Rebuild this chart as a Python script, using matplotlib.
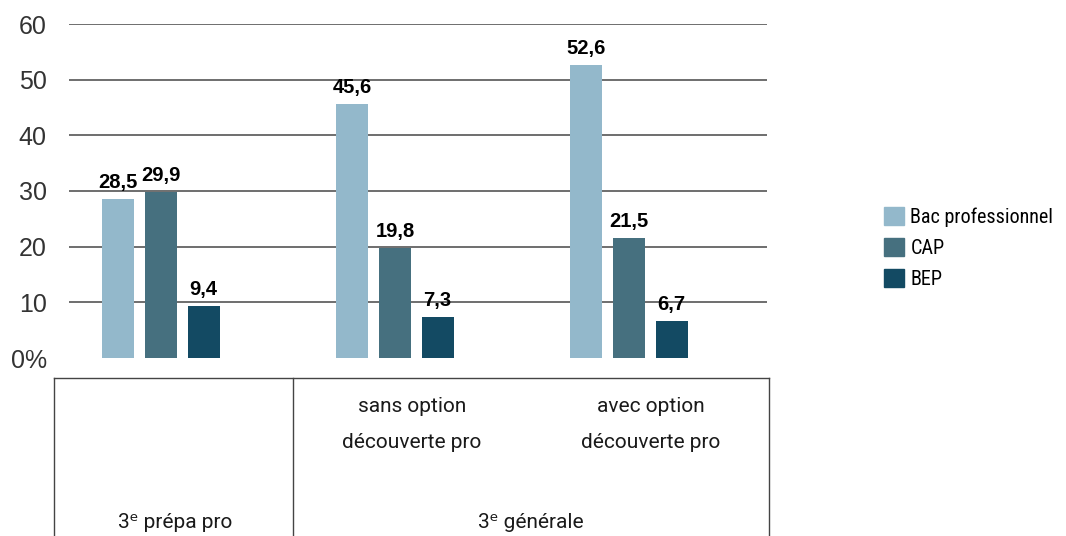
import matplotlib
matplotlib.use("Agg")
import matplotlib.pyplot as plt
from matplotlib.lines import Line2D
import numpy as np

# ---------- DONNÉES ----------
groups = ["3ᵉ prépa pro", "sans option découverte pro", "avec option découverte pro"]
series = ["Bac professionnel", "CAP", "BEP"]
bac_pro = [28.5, 45.6, 52.6]
cap = [29.9, 19.8, 21.5]
bep = [9.4, 7.3, 6.7]
yticks = [0, 10, 20, 30, 40, 50, 60]
ytick_labels = ["0%", "10", "20", "30", "40", "50", "60"]

colors = ["#93b8cb", "#46707f", "#134a63"]
TEXT_FONT = ["Roboto", "DejaVu Sans"]
LEGEND_FONT = ["Roboto Condensed", "DejaVu Sans"]

W, H = 1066, 536
fig = plt.figure(figsize=(W / 100, H / 100), dpi=100)
ax = fig.add_axes([69 / W, 1 - 358 / H, (767 - 69) / W, (358 - 24) / H])

x = np.arange(len(groups))
width = 0.137
step = 0.182
for k, (vals, name, col) in enumerate(zip([bac_pro, cap, bep], series, colors)):
    bars = ax.bar(x + (k - 1) * step, vals, width, color=col, label=name, zorder=3)
    labels = [f"{v:.1f}".replace(".", ",") for v in vals]
    ax.bar_label(bars, labels=labels, padding=5, fontsize=14.5, fontweight="bold",
                 family="Liberation Sans", color="black")

# grille
for t in yticks[1:]:
    ax.axhline(t, color="#555555", linewidth=1.2, zorder=1)

ax.set_xlim(-0.393, 2.59)
ax.set_ylim(0, 60)
ax.set_yticks(yticks)
ax.set_yticklabels(ytick_labels, family="Liberation Sans", fontsize=18, color="#333333")
ax.tick_params(axis="y", length=0, pad=16)
ax.set_xticks([])
for s in ax.spines.values():
    s.set_visible(False)

# légende
handles = [plt.Rectangle((0, 0), 1, 1, color=c) for c in colors]
fig.legend(handles, series, loc="center left", bbox_to_anchor=(866 / W, 1 - 248 / H),
           frameon=False, prop={"family": LEGEND_FONT, "size": 14.5},
           handlelength=1.0, handleheight=1.0, handletextpad=0.3, labelspacing=0.55)

# tableau de catégories sous le graphique
def fx(px):
    return px / W

def fy(py):
    return 1 - py / H

line_kw = dict(color="#444444", linewidth=1.0, transform=fig.transFigure)
fig.add_artist(Line2D([fx(54), fx(769)], [fy(378), fy(378)], **line_kw))
for px in (54, 293, 769):
    fig.add_artist(Line2D([fx(px), fx(px)], [fy(378), fy(540)], **line_kw))

txt_kw = dict(family=TEXT_FONT, fontsize=15, color="#1a1a1a", ha="center", va="center")
fig.text(fx(412), fy(406), "sans option", **txt_kw)
fig.text(fx(412), fy(442), "découverte pro", **txt_kw)
fig.text(fx(651), fy(406), "avec option", **txt_kw)
fig.text(fx(651), fy(442), "découverte pro", **txt_kw)
fig.text(fx(175), fy(522), groups[0], **txt_kw)
fig.text(fx(531), fy(522), "3ᵉ générale", **txt_kw)

fig.savefig("out.png", dpi=100)
